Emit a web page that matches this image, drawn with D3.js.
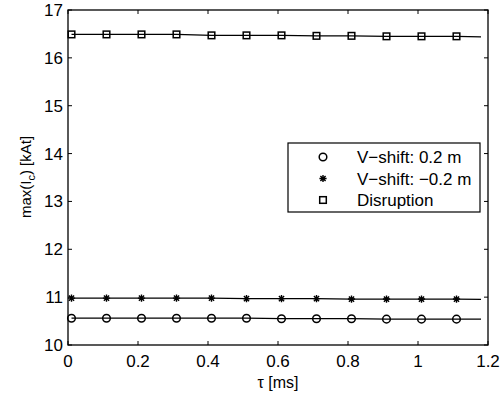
<!DOCTYPE html>
<html><head><meta charset="utf-8">
<script src="https://cdn.jsdelivr.net/npm/d3@7"></script>
<style>body{margin:0;background:#fff}svg{display:block}text{font-family:"Liberation Sans",Arial,sans-serif;fill:#000}</style>
</head><body><svg id="c" width="502" height="399"></svg>
<script>
const tau = [0.01,0.11,0.21,0.31,0.41,0.51,0.61,0.71,0.81,0.91,1.01,1.11,1.18];
const markerCount = 12;
const vshiftPos = [10.56,10.56,10.56,10.56,10.56,10.56,10.55,10.55,10.55,10.54,10.54,10.54,10.54];
const vshiftNeg = [10.98,10.98,10.98,10.98,10.98,10.97,10.97,10.97,10.96,10.96,10.96,10.96,10.955];
const disruption = [16.49,16.49,16.49,16.49,16.47,16.47,16.47,16.46,16.46,16.45,16.45,16.45,16.44];
const xTicks = [0,0.2,0.4,0.6,0.8,1,1.2];
const yTicks = [10,11,12,13,14,15,16,17];
const seriesNames = ["V\u2212shift: 0.2 m","V\u2212shift: \u22120.2 m","Disruption"];
const seriesMarkers = ["circle","star","square"];

const svg = d3.select("#c");
const L=68, R=488, T=10, B=345;
const x = d3.scaleLinear().domain([0,1.2]).range([L,R]);
const y = d3.scaleLinear().domain([10,17]).range([B,T]);

function marker(g, type, cx, cy){
  if(type==="circle") g.append("circle").attr("cx",cx).attr("cy",cy).attr("r",3.8).attr("fill","none").attr("stroke","#000").attr("stroke-width",1.5);
  else if(type==="square") g.append("rect").attr("x",cx-3.3).attr("y",cy-3.3).attr("width",6.6).attr("height",6.6).attr("fill","none").attr("stroke","#000").attr("stroke-width",1.5);
  else {
    const s=3.6, d=s*0.72;
    g.append("path").attr("d",`M${cx-s},${cy}L${cx+s},${cy}M${cx},${cy-s}L${cx},${cy+s}M${cx-d},${cy-d}L${cx+d},${cy+d}M${cx-d},${cy+d}L${cx+d},${cy-d}`).attr("stroke","#000").attr("stroke-width",1.4);
  }
}

const series=[vshiftPos,vshiftNeg,disruption];
const line = d3.line().x((d,i)=>x(tau[i])).y(d=>y(d));
series.forEach((vals,k)=>{
  svg.append("path").attr("d",line(vals)).attr("fill","none").attr("stroke","#000").attr("stroke-width",1.3);
  const g=svg.append("g");
  vals.slice(0,markerCount).forEach((v,i)=>marker(g,seriesMarkers[k],x(tau[i]),y(v)));
});

// axes box
svg.append("rect").attr("x",L).attr("y",T).attr("width",R-L).attr("height",B-T).attr("fill","none").attr("stroke","#000").attr("stroke-width",1.3);
const tl=4;
xTicks.forEach(t=>{
  svg.append("line").attr("x1",x(t)).attr("x2",x(t)).attr("y1",B).attr("y2",B-tl).attr("stroke","#000");
  svg.append("line").attr("x1",x(t)).attr("x2",x(t)).attr("y1",T).attr("y2",T+tl).attr("stroke","#000");
  svg.append("text").attr("x",x(t)).attr("y",366.5).attr("text-anchor","middle").attr("font-size",17).text(d3.format("")(t));
});
yTicks.forEach(t=>{
  svg.append("line").attr("x1",L).attr("x2",L+tl).attr("y1",y(t)).attr("y2",y(t)).attr("stroke","#000");
  svg.append("line").attr("x1",R).attr("x2",R-tl).attr("y1",y(t)).attr("y2",y(t)).attr("stroke","#000");
  svg.append("text").attr("x",63).attr("y",y(t)+6).attr("text-anchor","end").attr("font-size",17).text(t);
});

// labels
svg.append("text").attr("x",278).attr("y",388).attr("text-anchor","middle").attr("font-size",16)
  .text('\u03c4 [ms]');
const yl = svg.append("text").attr("transform","translate(31,177) rotate(-90)").attr("text-anchor","middle").attr("font-size",15);
yl.append("tspan").text("max(I");
yl.append("tspan").attr("font-size",11).attr("dy",4).text("c");
yl.append("tspan").attr("dy",-4).text(") [kAt]");

// legend
const lg=svg.append("g");
lg.append("rect").attr("x",288).attr("y",143).attr("width",192).attr("height",69).attr("fill","#fff").attr("stroke","#000").attr("stroke-width",1.2);
seriesNames.forEach((n,i)=>{
  const cy=157+i*21.5;
  marker(lg,seriesMarkers[i],323,cy);
  lg.append("text").attr("x",357).attr("y",cy+6).attr("font-size",17).text(n);
});
</script></body></html>
